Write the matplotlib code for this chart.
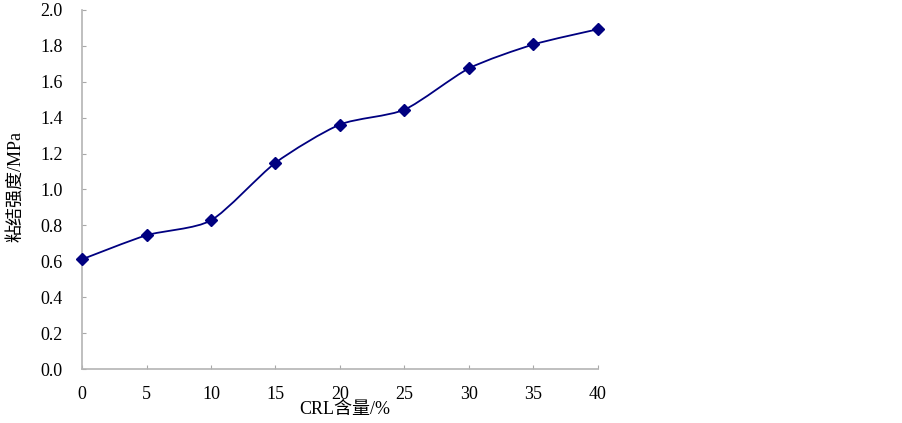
import matplotlib
matplotlib.use("Agg")
import matplotlib.pyplot as plt
from matplotlib.path import Path
from matplotlib.patches import PathPatch

# CRL含量 (%) 与 粘结强度 (MPa)
crl = [0, 5, 10, 15, 20, 25, 30, 35, 40]
strength = [0.611, 0.745, 0.828, 1.149, 1.362, 1.445, 1.675, 1.808, 1.893]
xticks = [0, 5, 10, 15, 20, 25, 30, 35, 40]
yticks = [0.0, 0.2, 0.4, 0.6, 0.8, 1.0, 1.2, 1.4, 1.6, 1.8, 2.0]

fonts = ['Liberation Serif', 'Noto Sans CJK SC']
col = '#000080'

fig = plt.figure(figsize=(9.03, 4.23), dpi=100)
ax = fig.add_axes([82/903, 54/423, 516/903, 359/423])

# smoothed line (like Excel), bezier segments through the points
verts = [(crl[0], strength[0])]
codes = [Path.MOVETO]
n = len(crl)
t = 0.12
for i in range(n-1):
    x0, y0 = crl[max(i-1, 0)], strength[max(i-1, 0)]
    x1, y1 = crl[i], strength[i]
    x2, y2 = crl[i+1], strength[i+1]
    x3, y3 = crl[min(i+2, n-1)], strength[min(i+2, n-1)]
    verts += [(x1 + (x2-x0)*t, y1 + (y2-y0)*t),
              (x2 - (x3-x1)*t, y2 - (y3-y1)*t),
              (x2, y2)]
    codes += [Path.CURVE4]*3
ax.add_patch(PathPatch(Path(verts, codes), fill=False, edgecolor=col, lw=1.3, clip_on=False))
ax.plot(crl, strength, ls='none', marker='D', ms=6.5, color=col, clip_on=False, zorder=5)

ax.set_xlim(0, 40)
ax.set_ylim(0, 2.0)
ax.set_xticks(xticks)
ax.set_yticks(yticks)
ax.set_xticklabels([str(v) for v in xticks], family=fonts, fontsize=13)
ax.set_yticklabels(['%.1f' % v for v in yticks], family=fonts, fontsize=13)
ax.tick_params(direction='in', length=3, color='#a8a8a8', pad=14)
ax.tick_params(axis='x', pad=12)
for s in ['top', 'right']:
    ax.spines[s].set_visible(False)
for s in ['left', 'bottom']:
    ax.spines[s].set_color('#b4b4b4')
    ax.spines[s].set_linewidth(1.2)

ax.set_xlabel('CRL含量/%', family=fonts, fontsize=13, va='center')
ax.set_ylabel('粘结强度/MPa', family=fonts, fontsize=13, va='center')
ax.xaxis.set_label_coords(0.51, -0.114)
ax.yaxis.set_label_coords(-0.128, 0.507)

fig.savefig('out.png', dpi=100)
